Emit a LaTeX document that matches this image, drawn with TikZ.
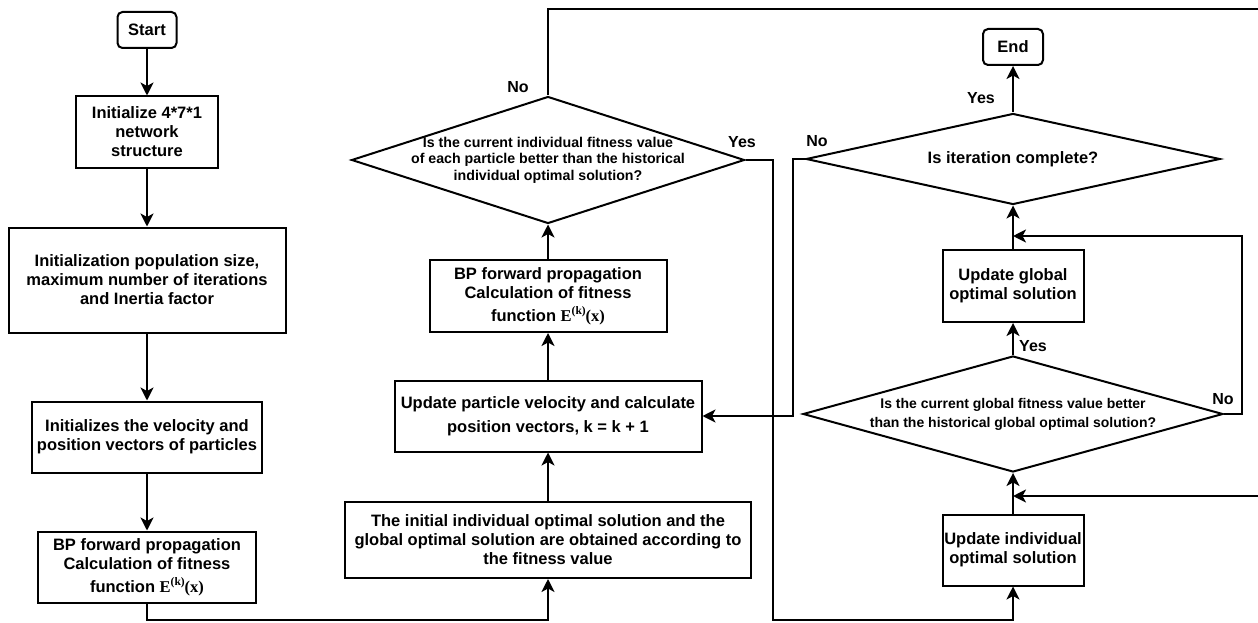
\documentclass[tikz,border=0pt]{standalone}
\usepackage{fontspec}
\setmainfont{Liberation Sans}
\newfontfamily\tnr{Liberation Serif}
\usetikzlibrary{shapes.geometric,arrows.meta}
\newcommand{\fitfun}{{\tnr E\raisebox{0.4em}{\fontsize{11.5}{11.5}\selectfont(k)}(x)}}

\begin{document}
\begin{tikzpicture}[x=1pt,y=-1pt,
  box/.style={draw,line width=2pt,align=center,inner sep=0pt,font=\bfseries\fontsize{16.5}{19}\selectfont},
  term/.style={box,rounded corners=5pt},
  decision/.style={draw,diamond,line width=2pt,inner sep=0pt},
  dtext/.style={align=center,font=\bfseries\fontsize{14.2}{16.5}\selectfont},
  flow/.style={line width=2pt,-{Stealth[length=13pt,width=13pt,inset=3.5pt]}},
  lbl/.style={font=\bfseries\fontsize{16}{19}\selectfont}]
\useasboundingbox (0,0) rectangle (1258,623);
\node[term,minimum width=59pt,minimum height=36pt] (start) at (147,30) {Start};
\node[box,minimum width=142pt,minimum height=71pt] (init) at (147,132) {Initialize 4*7*1\\network\\structure};
\node[box,minimum width=277pt,minimum height=105pt] (pop) at (147,280) {Initialization population size,\\maximum number of iterations\\and Inertia factor};
\node[box,minimum width=230pt,minimum height=71pt] (vel) at (147,437) {Initializes the velocity and\\position vectors of particles};
\node[box,minimum width=218pt,minimum height=71pt] (bpl) at (147,567) {BP forward propagation\\Calculation of fitness\\[4pt]function \fitfun};
\node[box,minimum width=406pt,minimum height=76pt] (initopt) at (548,540) {The initial individual optimal solution and the\\global optimal solution are obtained according to\\the fitness value};
\node[box,minimum width=307pt,minimum height=71pt,font=\bfseries\fontsize{16.5}{24}\selectfont] (upd) at (548,416) {Update particle velocity and calculate\\position vectors, k = k + 1};
\node[box,minimum width=237pt,minimum height=72pt] (bpm) at (548,296) {BP forward propagation\\Calculation of fitness\\[4pt]function \fitfun};
\node[decision,minimum width=393pt,minimum height=127pt,label={[dtext]center:Is the current individual fitness value\\of each particle better than the historical\\individual optimal solution?}] (dec1) at (548,160) {};
\node[box,minimum width=141pt,minimum height=71pt] (iupd) at (1013,550) {Update individual\\optimal solution};
\node[decision,minimum width=420pt,minimum height=116pt,label={[dtext,font=\bfseries\fontsize{14}{19}\selectfont]center:Is the current global fitness value better\\than the historical global optimal solution?}] (gdec) at (1013,414) {};
\node[box,minimum width=141pt,minimum height=72pt] (gupd) at (1013,286) {Update global\\optimal solution};
\node[decision,minimum width=414pt,minimum height=91pt,label={[dtext,font=\bfseries\fontsize{16.5}{19}\selectfont]center:Is iteration complete?}] (dec3) at (1013,159) {};
\node[term,minimum width=60pt,minimum height=36pt] (end) at (1013,47) {End};
\node[lbl] (no1) at (518,87) {No};
\node[lbl] (yes1) at (742,142) {Yes};
\node[lbl] (yes3) at (981,98) {Yes};
\node[lbl] (no3) at (817,141) {No};
\node[lbl] (yes2) at (1033,346) {Yes};
\node[lbl] (no2) at (1223,399) {No};
\coordinate (top) at (0,9);
\coordinate (bot) at (0,620);
\coordinate (farx) at (1262,0);
\coordinate (yesx) at (773,0);
\coordinate (nox) at (793,0);
\coordinate (loopx) at (1242,0);
\coordinate (ret1) at (0,496);
\coordinate (ret2) at (0,236);
\draw[flow] (start) -- (init);
\draw[flow] (init) -- (pop);
\draw[flow] (pop) -- (vel);
\draw[flow] (vel) -- (bpl);
\draw[flow] (bpl.south) -- (bpl.south |- bot) -- (initopt.south |- bot) -- (initopt.south);
\draw[flow] (initopt) -- (upd);
\draw[flow] (upd) -- (bpm);
\draw[flow] (bpm.north) -- (dec1.south);
\draw[flow] (dec1.north) -- (dec1.north |- top) -- (farx |- top) -- (farx |- ret1) -- (iupd.north |- ret1);
\draw[flow] (dec1.east) -- (yesx |- dec1.east) -- (yesx |- bot) -- (iupd.south |- bot) -- (iupd.south);
\draw[flow] (iupd.north) -- (gdec.south);
\draw[flow] (gdec.north) -- (gupd.south);
\draw[flow] (gdec.east) -- (loopx |- gdec.east) -- (loopx |- ret2) -- (gupd.north |- ret2);
\draw[flow] (gupd.north) -- (dec3.south);
\draw[flow] (dec3.north) -- (end.south);
\draw[flow] (dec3.west) -- (nox |- dec3.west) -- (nox |- upd.east) -- (upd.east);
\end{tikzpicture}
\end{document}
